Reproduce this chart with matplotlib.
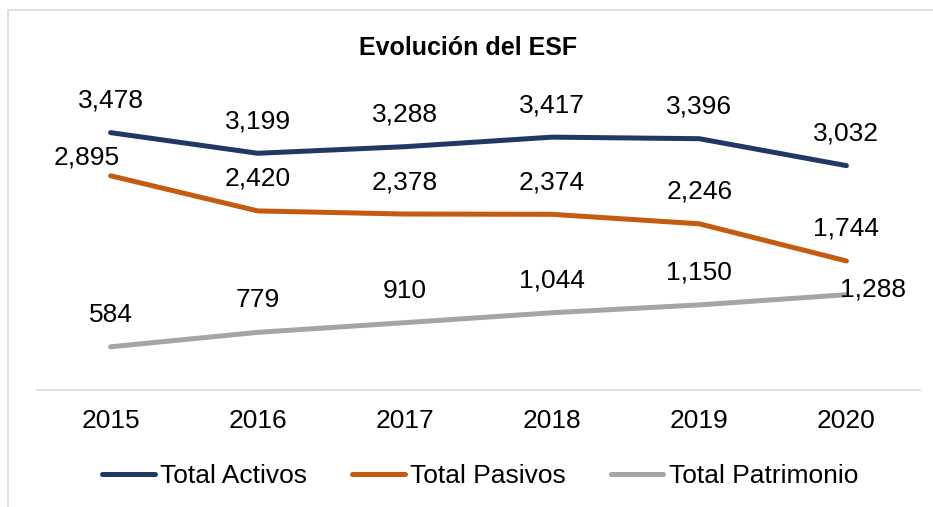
import matplotlib.pyplot as plt
from matplotlib.patches import Rectangle

plt.rcParams['font.family'] = ['Liberation Sans', 'DejaVu Sans']

years = ['2015', '2016', '2017', '2018', '2019', '2020']
activos = [3478, 3199, 3288, 3417, 3396, 3032]
pasivos = [2895, 2420, 2378, 2374, 2246, 1744]
patrimonio = [584, 779, 910, 1044, 1150, 1288]

series = [
    ('Total Activos', activos, '#203864'),
    ('Total Pasivos', pasivos, '#C55A11'),
    ('Total Patrimonio', patrimonio, '#A5A5A5'),
]

# manual label nudges (points) where the original labels were moved
nudge = {('Total Pasivos', 0): (-17, 13), ('Total Patrimonio', 5): (19, 4)}

W, H = 933, 507
fig = plt.figure(figsize=(W / 100, H / 100), dpi=100)
fig.patches.append(Rectangle((8 / W, -0.1), 1.2, 1 - 10 / H + 0.1,
                             transform=fig.transFigure, fill=False,
                             edgecolor='#D9D9D9', linewidth=1.2))

ax = fig.add_axes([37 / W, 117 / H, 883 / W, 296 / H])
x = list(range(len(years)))
for name, vals, color in series:
    ax.plot(x, vals, color=color, linewidth=3.6, solid_capstyle='round', label=name)
    for i, v in enumerate(vals):
        dx, dy = nudge.get((name, i), (0, 23))
        ax.annotate(f'{v:,}', (i, v), xytext=(dx, dy), textcoords='offset points',
                    ha='center', va='center', fontsize=19)

ax.set_xlim(-0.5, len(years) - 0.5)
ax.set_ylim(0, 4000)
ax.set_xticks(x)
ax.set_xticklabels(years, fontsize=19)
ax.tick_params(axis='x', length=0, pad=14)
ax.set_yticks([])
for s in ['left', 'right', 'top']:
    ax.spines[s].set_visible(False)
ax.spines['bottom'].set_color('#D9D9D9')
ax.spines['bottom'].set_linewidth(1.2)

fig.text(468 / W, 1 - 48 / H, 'Evolución del ESF', ha='center', va='center',
         fontsize=18, fontweight='bold')

fig.legend(loc='center', bbox_to_anchor=(480 / W, 1 - 476 / H), ncol=3,
           frameon=False, fontsize=19, handlelength=2.0, handletextpad=0.2,
           columnspacing=1.7)

fig.savefig('out.png', dpi=100)
